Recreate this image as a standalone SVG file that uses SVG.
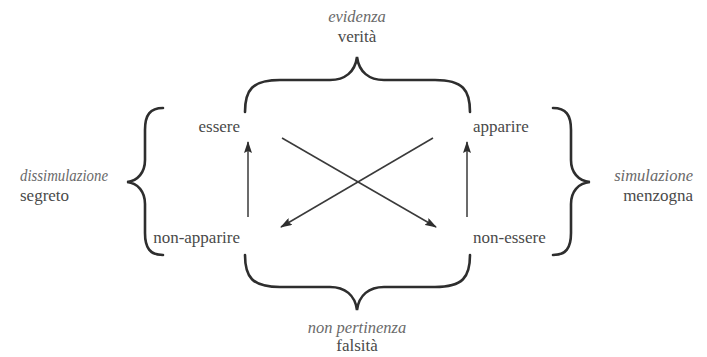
<svg xmlns="http://www.w3.org/2000/svg" width="707" height="357" viewBox="0 0 707 357">
<defs>
<style>
text{font-family:"Liberation Serif","DejaVu Serif",serif}
.lbl{font-size:17px;fill:#4a4a4a}
.it{font-size:16.5px;font-style:italic;fill:#6a6a6a}
.brace{fill:none;stroke:#2e2e2e;stroke-width:2.6;stroke-linecap:round}
.arr{fill:none;stroke:#3a3a3a;stroke-width:1.5}
</style>
<marker id="ah" viewBox="0 0 12 8" refX="11" refY="4" markerWidth="12" markerHeight="8" markerUnits="userSpaceOnUse" orient="auto">
<path d="M0,0 L12,4 L0,8 L2,4 Z" fill="#2e2e2e"/>
</marker>
</defs>
<rect width="707" height="357" fill="#ffffff"/>
<g id="braces">
<path class="brace" d="M245,112 C245,90 252,80 280,80 L330,80 C345,80 355,72 357,57 C359,72 369,80 384,80 L435,80 C463,80 470,90 470,112"/>
<path class="brace" d="M245,255 C245,277 252,287 280,287 L330,287 C345,287 355,295 357,310 C359,295 369,287 384,287 L435,287 C463,287 470,277 470,255"/>
<path class="brace" d="M163,108 C150,108 145,115 145,130 L145,160 C145,172 138,181 127,182 C138,183 145,192 145,204 L145,233 C145,248 150,255 163,255"/>
<path class="brace" d="M553,108 C566,108 571,115 571,130 L571,160 C571,172 578,181 590,182 C578,183 571,192 571,204 L571,233 C571,248 566,255 553,255"/>
</g>
<g id="connectors">
<line class="arr" x1="248" y1="217" x2="248" y2="142" marker-end="url(#ah)"/>
<line class="arr" x1="467" y1="217" x2="467" y2="142" marker-end="url(#ah)"/>
<line class="arr" x1="282" y1="138" x2="436" y2="227" marker-end="url(#ah)"/>
<line class="arr" x1="433" y1="138" x2="281" y2="227" marker-end="url(#ah)"/>
</g>
<g id="top">
<text class="it" x="357" y="22" text-anchor="middle">evidenza</text>
<text class="lbl" x="357" y="42" text-anchor="middle">verità</text>
</g>
<g id="bottom">
<text class="it" x="357" y="333" text-anchor="middle">non pertinenza</text>
<text class="lbl" x="357" y="351" text-anchor="middle">falsità</text>
</g>
<g id="left">
<text class="it" x="20" y="181" textLength="88" lengthAdjust="spacingAndGlyphs">dissimulazione</text>
<text class="lbl" x="20" y="201">segreto</text>
</g>
<g id="right">
<text class="it" x="693" y="181" text-anchor="end">simulazione</text>
<text class="lbl" x="693" y="201" text-anchor="end">menzogna</text>
</g>
<g id="essere"><text class="lbl" x="240" y="132" text-anchor="end">essere</text></g>
<g id="non-apparire"><text class="lbl" x="240" y="243" text-anchor="end">non-apparire</text></g>
<g id="apparire"><text class="lbl" x="473" y="132">apparire</text></g>
<g id="non-essere"><text class="lbl" x="473" y="243">non-essere</text></g>
</svg>
